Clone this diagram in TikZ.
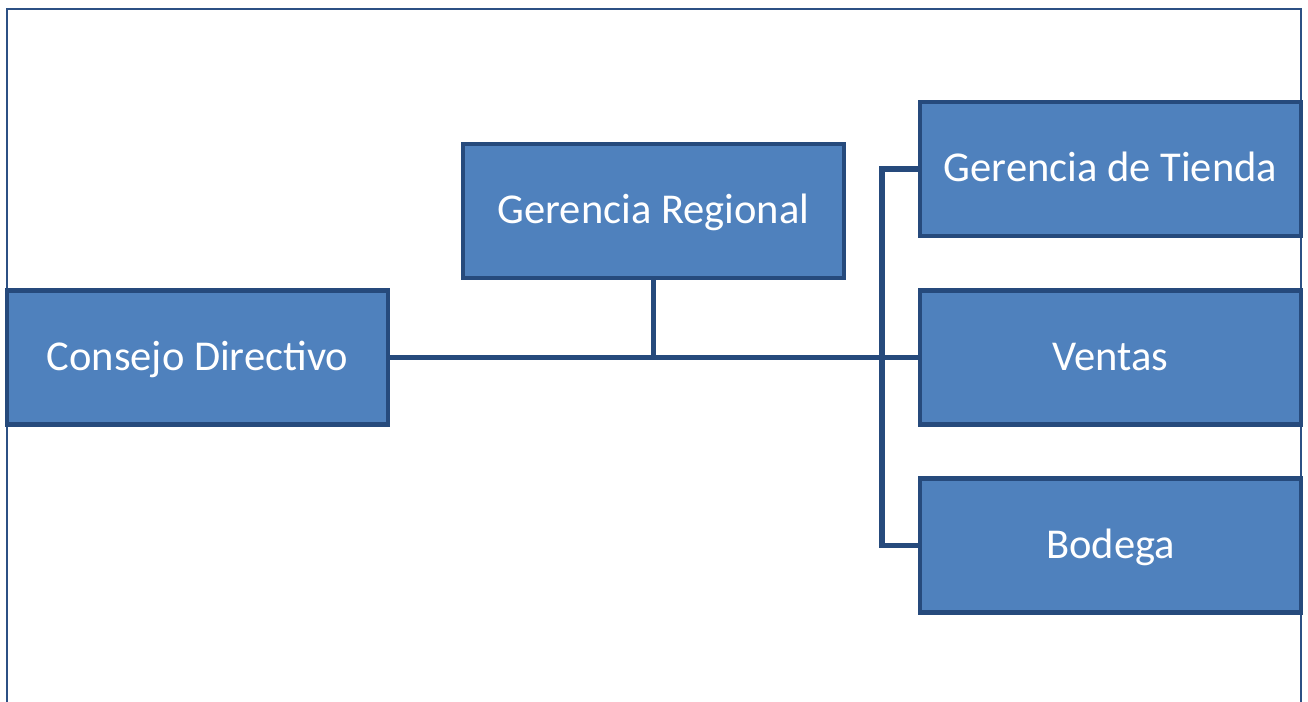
\documentclass[tikz,border=0pt]{standalone}
\usepackage{fontspec}
\setmainfont{Carlito}
\definecolor{boxfill}{RGB}{79,129,189}
\definecolor{boxline}{RGB}{38,74,124}
\definecolor{frameline}{RGB}{44,80,132}
\tikzset{
	unit/.style={draw=boxline, line width=2.6pt, fill=boxfill, text=white,
		minimum width=7.62cm, minimum height=2.68cm, inner sep=0pt,
		text height=0.66cm, text depth=0.152cm,
		font=\fontsize{24.2}{28}\selectfont},
	link/.style={draw=boxline, line width=3.2pt}
}
\begin{document}
\begin{tikzpicture}[x=0.02cm, y=-0.02cm]
		\useasboundingbox (0,0) rectangle (1308,701);
		\draw[frameline, line width=1.2pt] (7,705) -- (7,9) -- (1301,9) -- (1301,705);
		
		\node[unit] (cd) at (197.5,357.5) {Consejo Directivo};
		\node[unit] (gr) at (653.5,211) {Gerencia Regional};
		\node[unit] (gt) at (1110.5,169) {Gerencia de Tienda};
		\node[unit] (ve) at (1110.5,357.5) {Ventas};
		\node[unit] (bo) at (1110.5,545.5) {Bodega};
		
		\coordinate (br) at (882,357.5);
		
		\draw[link] (cd.east) -- (ve.west);
		\draw[link] (gr.south) -- (gr.south |- cd.east);
		\draw[link] (gt.west) -| (br) |- (bo.west);
		
		% redraw boxes over the line ends
		\node[unit] at (ve) {Ventas};
	\end{tikzpicture}
\end{document}
